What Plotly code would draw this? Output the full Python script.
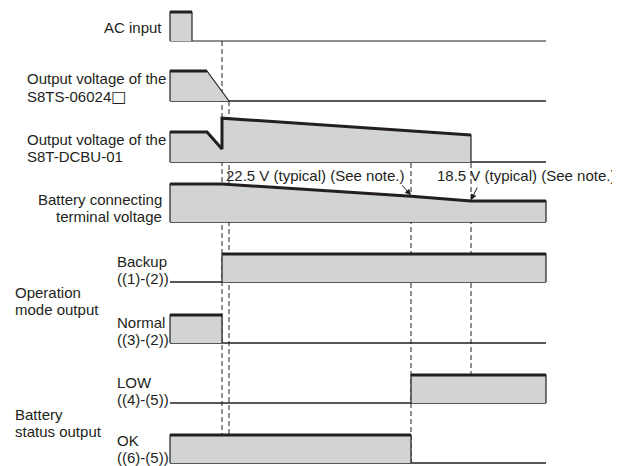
import plotly.graph_objects as go

# ---------------- data (time in arbitrary units, levels normalised per row) ----------------
T_END = 376

ac_t = [0, 22];                         ac_v = [1, 1]
s8ts_t = [0, 37, 59];                   s8ts_v = [1, 1, 0]
dcbu_t = [0, 37, 52, 52, 301];          dcbu_v = [1, 1, 0.43, 1.46, 0.9]
batt_t = [0, 52, 241, 301, 376];        batt_v = [1, 1, 0.68, 0.55, 0.55]
backup_t = [52, 376];                   backup_v = [1, 1]
normal_t = [0, 52];                     normal_v = [1, 1]
low_t = [241, 376];                     low_v = [1, 1]
ok_t = [0, 241];                        ok_v = [1, 1]

# event times used for the dashed guide lines
t_backup = 52
t_s8ts_off = 59
t_low = 241
t_dcbu_off = 301

label_22 = "22.5 V (typical) (See note.)"
label_18 = "18.5 V (typical) (See note.)"

# ---------------- layout (row positions in screen units) ----------------
rows = {
    "ac":     dict(base=41,  h=29),
    "s8ts":   dict(base=101, h=30),
    "dcbu":   dict(base=162, h=30),
    "batt":   dict(base=222, h=38),
    "backup": dict(base=282, h=28),
    "normal": dict(base=343, h=28),
    "low":    dict(base=403, h=28),
    "ok":     dict(base=463, h=28),
}

FILL = "#d1d3d4"
INK = "#231f20"
FONT = dict(family="Liberation Sans, Arial, sans-serif", size=15, color=INK)

def y_of(row, v):
    r = rows[row]
    return r["base"] - v * r["h"]

fig = go.Figure()

def dashed(t, y0, y1):
    fig.add_trace(go.Scatter(x=[t, t], y=[y0, y1], mode="lines",
                             line=dict(color=INK, width=1, dash="5px,3px"),
                             hoverinfo="skip", showlegend=False))

# dashed guides first (fills go over them)
dashed(t_backup, y_of("ac", 0), y_of("ok", 1))
dashed(t_s8ts_off, y_of("s8ts", 0), y_of("ok", 1))
dashed(t_low, rows["dcbu"]["base"] + 1, y_of("ok", 0))
dashed(t_dcbu_off, rows["dcbu"]["base"] + 1, y_of("low", 1))

def signal(row, ts, vs, thick_n=None, base_w=1.5):
    # baseline
    fig.add_trace(go.Scatter(x=[0, T_END], y=[y_of(row, 0)] * 2, mode="lines",
                             line=dict(color=INK, width=base_w),
                             hoverinfo="skip", showlegend=False))
    # filled area
    px = [ts[0]] + list(ts) + [ts[-1]]
    py = [y_of(row, 0)] + [y_of(row, v) for v in vs] + [y_of(row, 0)]
    fig.add_trace(go.Scatter(x=px, y=py, mode="lines", fill="toself",
                             fillcolor=FILL, line=dict(color=INK, width=1.2),
                             hoverinfo="skip", showlegend=False))
    # thick top outline
    n = thick_n if thick_n else len(ts)
    fig.add_trace(go.Scatter(x=ts[:n], y=[y_of(row, v) for v in vs[:n]], mode="lines",
                             line=dict(color=INK, width=3),
                             hoverinfo="skip", showlegend=False))

signal("ac", ac_t, ac_v, base_w=1.2)
signal("s8ts", s8ts_t, s8ts_v, thick_n=2)
signal("dcbu", dcbu_t, dcbu_v)
signal("batt", batt_t, batt_v)
signal("backup", backup_t, backup_v)
signal("normal", normal_t, normal_v)
signal("low", low_t, low_v)
signal("ok", ok_t, ok_v)

# ---------------- text ----------------
def txt(x, y, s, anchor="left"):
    fig.add_annotation(x=x, y=y, text=s, showarrow=False, xanchor=anchor,
                       yanchor="middle", font=FONT, xref="x", yref="y")

R = -6    # right edge of row titles (relative to time axis)
L1 = -145 # left column start
L2 = -55  # sub-label column start

BOX = "<span style='font-family:DejaVu Sans;font-size:16px'>\u25a1</span>"

txt(R, 27.5, "AC input", "right")
txt(L1, 78, "Output voltage of the")
txt(L1, 96, "S8TS-06024" + BOX)
txt(L1, 139, "Output voltage of the")
txt(L1, 156, "S8T-DCBU-01")
txt(R, 199, "Battery connecting", "right")
txt(R, 216, "terminal voltage", "right")
txt(L2, 261, "Backup")
txt(L2, 278, "((1)-(2))")
txt(-157, 292, "Operation")
txt(-157, 309, "mode output")
txt(L2, 322, "Normal")
txt(L2, 339, "((3)-(2))")
txt(L2, 382, "LOW")
txt(L2, 399, "((4)-(5))")
txt(-157, 414, "Battery")
txt(-157, 431, "status output")
txt(L2, 440, "OK")
txt(L2, 457, "((6)-(5))")

txt(54, 175, label_22)
txt(265, 175, label_18)

# arrows to the voltage points on the battery curve
for (tx, v, ax, ay) in [(t_low, batt_v[2], 231, 184), (t_dcbu_off, batt_v[3], 308, 186)]:
    fig.add_annotation(x=tx, y=y_of("batt", v) - 1, ax=ax, ay=ay, axref="x", ayref="y",
                       xref="x", yref="y", text="", showarrow=True,
                       arrowhead=2, arrowsize=1.2, arrowwidth=1, arrowcolor=INK)

# the page puts the figure 8px from the window's top-left corner
fig.update_layout(
    width=612, height=458,
    margin=dict(l=0, r=0, t=0, b=0),
    paper_bgcolor="white", plot_bgcolor="white",
    xaxis=dict(range=[-162, 450], visible=False, fixedrange=True),
    yaxis=dict(range=[466, 8], visible=False, fixedrange=True),
    showlegend=False,
)

fig.write_html("out.html")
